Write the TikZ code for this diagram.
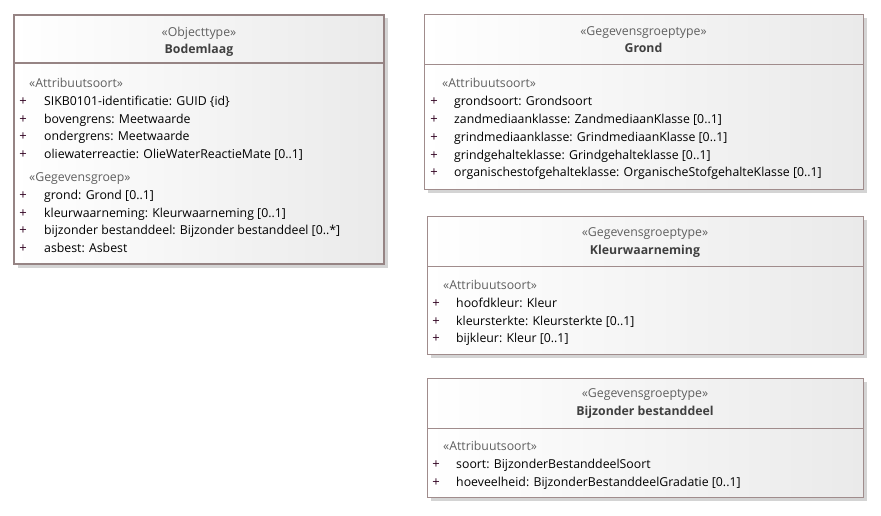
\documentclass[tikz,border=0pt]{standalone}
\usepackage{fontspec}
\setmainfont{Open Sans}
\definecolor{bordc}{RGB}{160,140,140}
\definecolor{bordthick}{RGB}{150,132,132}
\definecolor{shadc}{RGB}{212,212,212}
\definecolor{stc}{RGB}{96,96,96}
\definecolor{namec}{RGB}{64,64,64}
\definecolor{plusc}{RGB}{48,0,32}
\definecolor{fillr}{RGB}{234,234,234}
\begin{document}
\begin{tikzpicture}[x=1pt,y=-1pt,
  txt/.style={inner sep=0pt,anchor=base west,font=\fontsize{12.3}{14}\selectfont,text=black},
  plus/.style={inner sep=0pt,anchor=base,font=\fontsize{13}{14}\selectfont,text=plusc},
  stereo/.style={inner sep=0pt,anchor=base,font=\fontsize{12.3}{14}\selectfont,text=stc},
  ster/.style={inner sep=0pt,anchor=base west,font=\fontsize{12.3}{14}\selectfont,text=stc},
  cname/.style={inner sep=0pt,anchor=base,font=\fontsize{12.3}{14}\selectfont\bfseries,text=namec},
  shad/.style={fill=shadc,draw=none},
  boxfill/.style={shading=axis,left color=white,right color=fillr,shading angle=90},
]
\useasboundingbox (0,0) rectangle (881,515);
% ---------- Bodemlaag ----------
\fill[shad] (18,18) rectangle (388,268);
\path[boxfill] (14,15) rectangle (384,264);
\draw[bordthick,line width=2.5pt] (14,15) rectangle (384,264);
\draw[bordthick,line width=2pt] (14,63) -- (384,63);
\node[stereo] (b1s) at (199,36) {«Objecttype»};
\node[cname] (b1n) at (199,53) {Bodemlaag};
\node[ster] (b1a) at (29,87) {«Attribuutsoort»};
\foreach \y/\t [count=\i] in {105/{SIKB0101-identificatie: GUID \{id\}},123/{bovengrens: Meetwaarde},140/{ondergrens: Meetwaarde},158/{oliewaterreactie: OlieWaterReactieMate [0..1]}}{
  \node[plus] (b1p\i) at (23,\y) {+};
  \node[txt] (b1t\i) at (44,\y) {\t};
}
\node[ster] (b1g) at (29,181) {«Gegevensgroep»};
\foreach \y/\t [count=\i] in {199/{grond: Grond [0..1]},217/{kleurwaarneming: Kleurwaarneming [0..1]},234/{bijzonder bestanddeel: Bijzonder bestanddeel [0..*]},252/{asbest: Asbest}}{
  \node[plus] (b1q\i) at (23,\y) {+};
  \node[txt] (b1u\i) at (44,\y) {\t};
}
% ---------- Grond ----------
\fill[shad] (428,18) rectangle (867,193);
\path[boxfill] (424,14) rectangle (863,189);
\draw[bordc,line width=1pt] (424,14) rectangle (863,189);
\draw[bordc,line width=1pt] (424,64) -- (863,64);
\node[stereo] (b2s) at (643.5,35) {«Gegevensgroeptype»};
\node[cname] (b2n) at (643.5,52) {Grond};
\node[ster] (b2a) at (442,87) {«Attribuutsoort»};
\foreach \y/\t [count=\i] in {105/{grondsoort: Grondsoort},123/{zandmediaanklasse: ZandmediaanKlasse [0..1]},141/{grindmediaanklasse: GrindmediaanKlasse [0..1]},159/{grindgehalteklasse: Grindgehalteklasse [0..1]},176/{organischestofgehalteklasse: OrganischeStofgehalteKlasse [0..1]}}{
  \node[plus] (b2p\i) at (434,\y) {+};
  \node[txt] (b2t\i) at (454,\y) {\t};
}
% ---------- Kleurwaarneming ----------
\fill[shad] (431,220) rectangle (867,358);
\path[boxfill] (427,216) rectangle (863,354);
\draw[bordc,line width=1pt] (427,216) rectangle (863,354);
\draw[bordc,line width=1pt] (427,266) -- (863,266);
\node[stereo] (b3s) at (645,236) {«Gegevensgroeptype»};
\node[cname] (b3n) at (645,254) {Kleurwaarneming};
\node[ster] (b3a) at (443,289) {«Attribuutsoort»};
\foreach \y/\t [count=\i] in {307/{hoofdkleur: Kleur},325/{kleursterkte: Kleursterkte [0..1]},342/{bijkleur: Kleur [0..1]}}{
  \node[plus] (b3p\i) at (436,\y) {+};
  \node[txt] (b3t\i) at (456,\y) {\t};
}
% ---------- Bijzonder bestanddeel ----------
\fill[shad] (431,382) rectangle (867,501);
\path[boxfill] (427,378) rectangle (863,497);
\draw[bordc,line width=1pt] (427,378) rectangle (863,497);
\draw[bordc,line width=1pt] (427,428) -- (863,428);
\node[stereo] (b4s) at (645,397) {«Gegevensgroeptype»};
\node[cname] (b4n) at (645,415) {Bijzonder bestanddeel};
\node[ster] (b4a) at (443,450) {«Attribuutsoort»};
\foreach \y/\t [count=\i] in {468/{soort: BijzonderBestanddeelSoort},486/{hoeveelheid: BijzonderBestanddeelGradatie [0..1]}}{
  \node[plus] (b4p\i) at (436,\y) {+};
  \node[txt] (b4t\i) at (456,\y) {\t};
}
\end{tikzpicture}
\end{document}
